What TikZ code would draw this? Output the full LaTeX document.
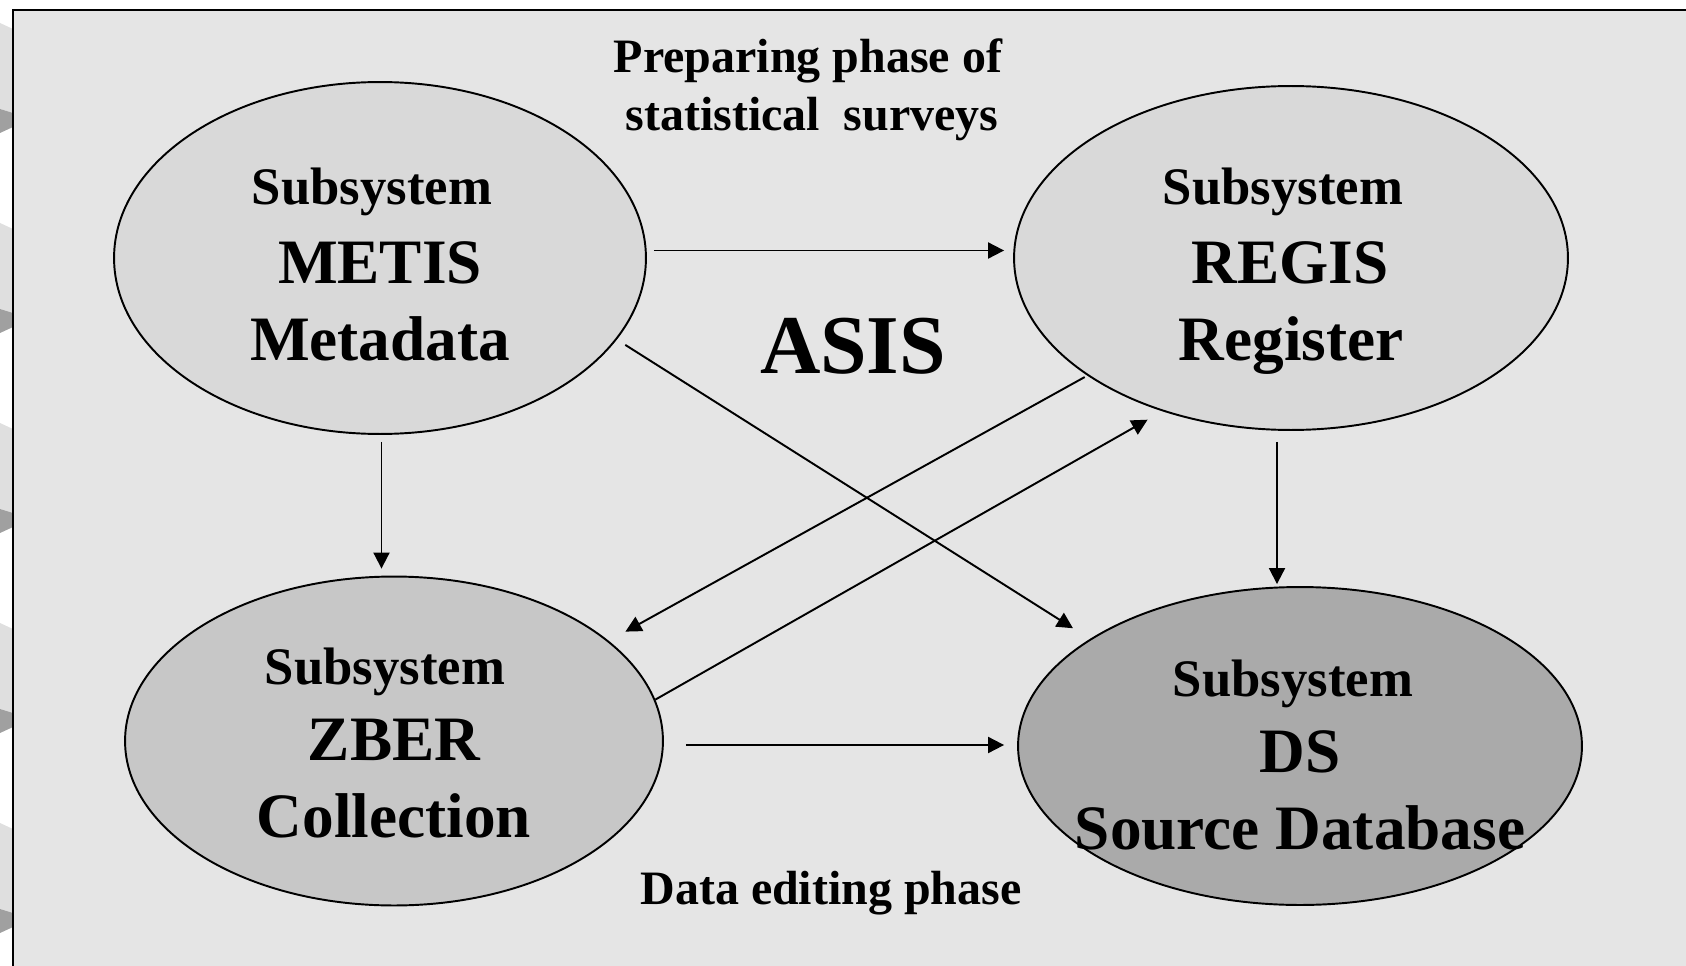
\documentclass[tikz,border=0pt]{standalone}
\usepackage{fontspec}
\setmainfont{Liberation Serif}
\usetikzlibrary{shapes.geometric,arrows.meta}

\definecolor{panelgray}{HTML}{E5E5E5}
\definecolor{lightfill}{HTML}{D9D9D9}
\definecolor{midfill}{HTML}{C7C7C7}
\definecolor{darkfill}{HTML}{AAAAAA}
\definecolor{sidelight}{HTML}{DFDFDF}
\definecolor{sidedark}{HTML}{A0A0A0}

\tikzset{
  subsys/.style={ellipse, draw, line width=1.1pt, inner sep=0pt},
  conn/.style={line width=1.1pt, -{Triangle[length=0.32cm,width=0.32cm]}},
  lsmall/.style={font=\bfseries\fontsize{30}{34}\selectfont, anchor=base, inner sep=0pt},
  lbig/.style={font=\bfseries\fontsize{36}{40}\selectfont, anchor=base, inner sep=0pt},
  lphase/.style={font=\bfseries\fontsize{27.3}{30}\selectfont, anchor=base, inner sep=0pt}
}

\begin{document}
\begin{tikzpicture}[x=0.02cm, y=-0.02cm]
    \useasboundingbox (0,0) rectangle (1686,966);
    \clip (0,0) rectangle (1686,966);
    % side marks left of the panel
    \foreach \k in {0,...,4}{
        \fill[sidelight] (0,23+200*\k) -- (13,29+200*\k) -- (13,113+200*\k) -- (0,109+200*\k) -- cycle;
        \fill[sidedark] (0,109+200*\k) -- (13,113+200*\k) -- (13,127+200*\k) -- (0,133+200*\k) -- cycle;
    }
    \filldraw[fill=panelgray, draw=black, line width=1.1pt] (13,10) rectangle (1720,1000);% panel

    % the four subsystems
    \node[subsys, fill=lightfill, minimum width=10.64cm, minimum height=7.04cm] (metis) at (380,258) {};
    \node[subsys, fill=lightfill, minimum width=11.08cm, minimum height=6.88cm] (regis) at (1291,258) {};
    \node[subsys, fill=midfill, minimum width=10.76cm, minimum height=6.58cm] (zber) at (394,741) {};
    \node[subsys, fill=darkfill, minimum width=11.28cm, minimum height=6.36cm] (ds) at (1300,746) {};

    \node[lsmall] (metissub)  at (372,205) {Subsystem};
    \node[lbig]   (metisname) at (380,283) {METIS};
    \node[lbig]   (metisdesc) at (380,360) {Metadata};

    \node[lsmall] (regissub)  at (1283,205) {Subsystem};
    \node[lbig]   (regisname) at (1290,283) {REGIS};
    \node[lbig]   (regisdesc) at (1291,360) {Register};

    \node[lsmall] (zbersub)  at (385,684) {Subsystem};
    \node[lbig]   (zbername) at (394,760) {ZBER};
    \node[lbig]   (zberdesc) at (394,837) {Collection};

    \node[lsmall] (dssub)  at (1293,696) {Subsystem};
    \node[lbig]   (dsname) at (1300,772) {DS};
    \node[lbig]   (dsdesc) at (1300,849) {Source Database};

    \node[font=\bfseries\fontsize{47.6}{50}\selectfont, anchor=base, inner sep=0pt] (asis) at (853,373) {ASIS};
    \node[lphase] (prep1) at (808,73) {Preparing phase of};
    \node[lphase] (prep2) at (812,131) {statistical\ \ surveys};
    \node[lphase] (editing) at (831,904) {Data editing phase};

    % connectors
    \draw[conn, shorten <=0.14cm, shorten >=0.18cm] ([yshift=0.15cm]metis.east) -- ([yshift=0.15cm]metis.east -| regis.west);
    \draw[conn, shorten <=0.14cm, shorten >=0.14cm] ([xshift=0.03cm]metis.south) -- ([xshift=0.03cm]metis.south |- zber.north);
    \draw[conn, shorten <=0.2cm, shorten >=0.4cm] (metis.-19.8) -- (ds.153.5);
    \draw[conn, shorten <=0.06cm, shorten >=0.38cm] (regis.210.3) -- (zber.25.5);
    \draw[conn, shorten >=0.34cm] (zber.9.6) -- (regis.230);
    \draw[conn, shorten <=0.44cm, shorten >=0.26cm] ([yshift=-0.08cm]zber.east) -- ([yshift=-0.08cm]zber.east -| ds.west);
    \draw[conn, shorten <=0.22cm, shorten >=0.04cm] ([xshift=-0.28cm]regis.south) -- ([xshift=-0.28cm]regis.south |- ds.north);
\end{tikzpicture}
\end{document}
